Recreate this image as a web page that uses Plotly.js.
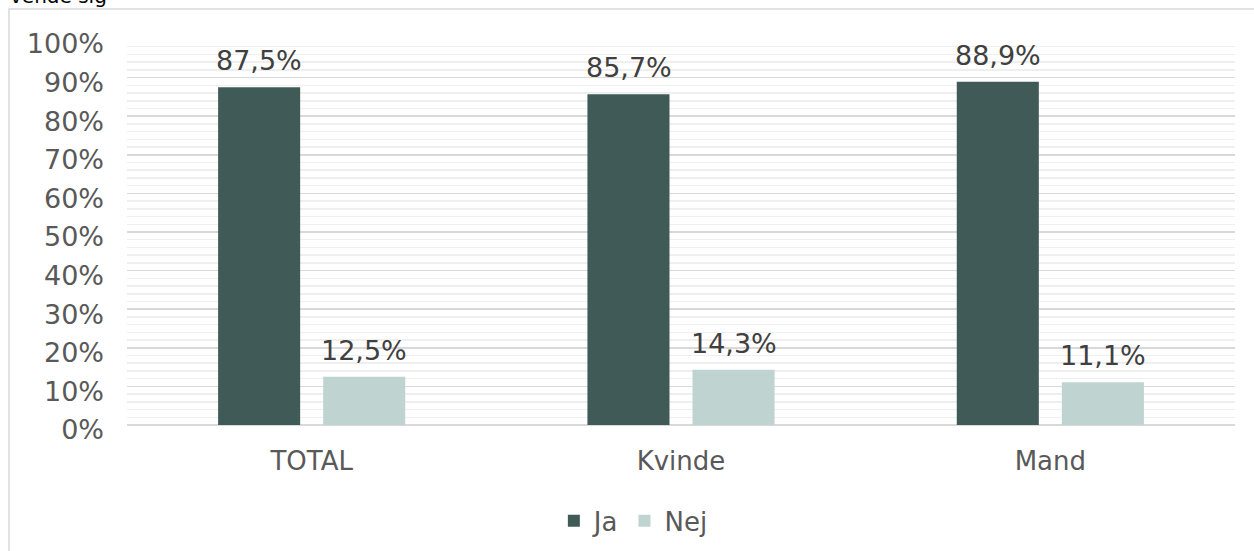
<!DOCTYPE html>
<html>
<head>
<meta charset="utf-8">
<script src="https://cdn.plot.ly/plotly-3.0.1.min.js"></script>
<style>
  html, body { margin: 0; padding: 0; background: #ffffff; }
  #chart { width: 1254px; height: 551px; }
</style>
</head>
<body>
<div id="chart"></div>
<script>
const categories = ["TOTAL", "Kvinde", "Mand"];
const seriesNames = ["Ja", "Nej"];
const jaValues = [87.5, 85.7, 88.9];
const nejValues = [12.5, 14.3, 11.1];
const tickValues = [0, 10, 20, 30, 40, 50, 60, 70, 80, 90, 100];
const tickLabels = tickValues.map(v => v + "%");
const clippedTitle = "vende sig";

const fmt = v => v.toFixed(1).replace(".", ",") + "%";
const FONT = "DejaVu Sans, Verdana, sans-serif";
const SLOT_SHIFT = 52.5;

const traces = [
  {
    type: "bar", name: seriesNames[0], x: categories, y: jaValues,
    marker: { color: "#405b57" }, hoverinfo: "skip"
  },
  {
    type: "bar", name: seriesNames[1], x: categories, y: nejValues,
    marker: { color: "#bfd4d1" }, hoverinfo: "skip"
  }
];

const valueLabels = [];
[jaValues, nejValues].forEach((vals, si) => {
  vals.forEach((v, i) => {
    valueLabels.push({
      xref: "x", yref: "y", x: categories[i], y: v,
      xshift: si === 0 ? -SLOT_SHIFT : SLOT_SHIFT, yshift: 9,
      xanchor: "center", yanchor: "bottom", showarrow: false,
      text: fmt(v), font: { family: FONT, size: 27, color: "#404040" }
    });
  });
});

const layout = {
  width: 1254, height: 551,
  margin: { l: 127, r: 19, t: 39, b: 126, autoexpand: false },
  paper_bgcolor: "#ffffff", plot_bgcolor: "#ffffff",
  font: { family: FONT, size: 26, color: "#595959" },
  barmode: "group", bargap: 0.431, bargroupgap: 0.219,
  showlegend: true,
  legend: {
    orientation: "h", x: 0.457, xanchor: "center", y: -0.248, yanchor: "middle",
    font: { family: FONT, size: 26, color: "#595959" }, traceorder: "normal",
    itemwidth: 30
  },
  xaxis: {
    type: "category", showgrid: false, zeroline: false, showline: false,
    automargin: false,
    ticks: "", ticklabelstandoff: 18,
    tickfont: { family: FONT, size: 26, color: "#595959" }
  },
  yaxis: {
    range: [0, 100], tickvals: tickValues, ticktext: tickLabels,
    automargin: false,
    showgrid: true, gridcolor: "#d9d9d9", gridwidth: 1.5,
    zeroline: true, zerolinecolor: "#d9d9d9", zerolinewidth: 2,
    showline: false, ticks: "", ticklabelstandoff: 22, ticklabelshift: 5,
    tickfont: { family: FONT, size: 27, color: "#595959" },
    minor: { dtick: 2, showgrid: true, gridcolor: "#efefef", gridwidth: 1.5 }
  },
  shapes: [
    { type: "rect", xref: "paper", yref: "paper",
      x0: -0.1065, x1: 1.03, y0: -0.4, y1: 1.0777,
      line: { color: "#d9d9d9", width: 1.5 }, fillcolor: "rgba(0,0,0,0)", layer: "below" }
  ],
  annotations: [
    { text: clippedTitle, xref: "paper", yref: "paper",
      x: -0.1075, xanchor: "left", y: 1.074, yanchor: "bottom",
      showarrow: false, font: { family: FONT, size: 20, color: "#000000" } }
  ].concat(valueLabels)
};

Plotly.newPlot("chart", traces, layout, { displayModeBar: false, staticPlot: true });
</script>
</body>
</html>
